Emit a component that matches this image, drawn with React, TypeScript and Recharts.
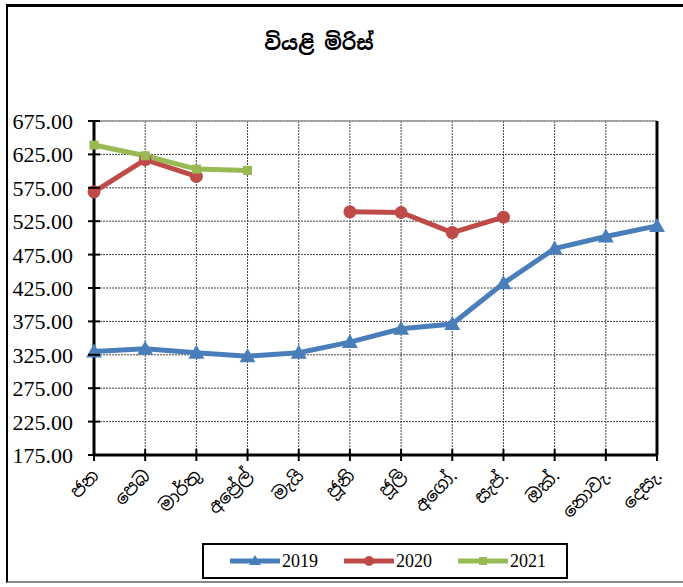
import React from "react";
import {
  LineChart,
  Line,
  XAxis,
  YAxis,
  CartesianGrid,
  ReferenceLine,
} from "recharts";

const months = [
  "ජන",
  "පෙබ",
  "මාර්තු",
  "අප්‍රේල්",
  "මැයි",
  "ජූනි",
  "ජූලි",
  "අගෝ.",
  "සැප්.",
  "ඔක්.",
  "නොවැ.",
  "දෙසැ.",
];

const y2019 = [330, 334, 328, 323, 328, 344, 364, 371, 432, 484, 502, 518];
const y2020 = [569, 617, 592, null, null, 539, 538, 508, 531, null, null, null];
const y2021 = [639, 623, 603, 601, null, null, null, null, null, null, null, null];

const yTicks = [175, 225, 275, 325, 375, 425, 475, 525, 575, 625, 675];

const COLORS = {
  y2019: "#4a7ebb",
  y2020: "#be4b48",
  y2021: "#98b954",
};

const data = months.map((m, i) => ({
  month: m,
  y2019: y2019[i],
  y2020: y2020[i],
  y2021: y2021[i],
}));

const SINHALA = "'Noto Sans Sinhala', 'Noto Serif Sinhala', 'Iskoola Pota', sans-serif";
const SERIF = "'Liberation Serif', 'Times New Roman', serif";

const Triangle = ({ cx, cy, fill }: any) => {
  if (cx == null || cy == null) return null;
  const s = 8;
  return (
    <polygon
      points={`${cx},${cy - s} ${cx + s},${cy + s * 0.75} ${cx - s},${cy + s * 0.75}`}
      fill={fill}
    />
  );
};

const Circle = ({ cx, cy, fill }: any) => {
  if (cx == null || cy == null) return null;
  return <circle cx={cx} cy={cy} r={6.5} fill={fill} />;
};

const Square = ({ cx, cy, fill }: any) => {
  if (cx == null || cy == null) return null;
  return <rect x={cx - 4.5} y={cy - 4.5} width={9} height={9} fill={fill} />;
};

const YTick = ({ x, y, payload }: any) => (
  <g>
    <line x1={x - 6} x2={x + 6} y1={y} y2={y} stroke="#000" strokeWidth={2} />
    <text
      x={x - 21}
      y={y}
      dy="0.36em"
      textAnchor="end"
      fontFamily={SERIF}
      fontSize={22}
      fill="#000"
    >
      {payload.value.toFixed(2)}
    </text>
  </g>
);

const XTick = ({ x, y, payload }: any) => (
  <g>
    <line x1={x} x2={x} y1={y - 6} y2={y + 6} stroke="#000" strokeWidth={2} />
    <text
      x={x + 6}
      y={y + 22}
      textAnchor="end"
      fontFamily={SINHALA}
      fontSize={18}
      fill="#000"
      transform={`rotate(-45 ${x + 6} ${y + 22})`}
    >
      {payload.value}
    </text>
  </g>
);

const legendItems = [
  { label: "2019", color: COLORS.y2019, marker: "tri" },
  { label: "2020", color: COLORS.y2020, marker: "circle" },
  { label: "2021", color: COLORS.y2021, marker: "square" },
];

function LegendBox() {
  return (
    <div
      style={{
        position: "absolute",
        left: 202,
        top: 543,
        width: 366,
        height: 36,
        border: "2px solid #000",
        boxSizing: "border-box",
        display: "flex",
        alignItems: "center",
        paddingLeft: 26,
        fontFamily: SERIF,
        fontSize: 18,
        color: "#000",
      }}
    >
      {legendItems.map((it) => (
        <div key={it.label} style={{ display: "flex", alignItems: "center", marginRight: 26 }}>
          <svg width={50} height={14}>
            <line x1={1} x2={49} y1={7} y2={7} stroke={it.color} strokeWidth={5} strokeLinecap="round" />
            {it.marker === "tri" && <polygon points="25,1 31,11 19,11" fill={it.color} />}
            {it.marker === "circle" && <circle cx={25} cy={7} r={5} fill={it.color} />}
            {it.marker === "square" && <rect x={21} y={3} width={8} height={8} fill={it.color} />}
          </svg>
          <span style={{ marginLeft: 2 }}>{it.label}</span>
        </div>
      ))}
    </div>
  );
}

export default function App() {
  return (
    <div
      style={{
        position: "absolute",
        left: 0,
        top: 0,
        width: 683,
        height: 587,
        background: "#fff",
        overflow: "hidden",
      }}
    >
      <div
        style={{
          position: "absolute",
          left: 6,
          top: 4,
          width: 700,
          height: 579,
          borderLeft: "2px solid #000",
          borderTop: "3px solid #000",
          borderBottom: "2px solid #888",
          boxSizing: "border-box",
        }}
      />
      <div
        style={{
          position: "absolute",
          left: 219,
          top: 30,
          width: 200,
          textAlign: "center",
          fontFamily: SINHALA,
          fontWeight: "bold",
          fontSize: 20,
          color: "#000",
        }}
      >
        වියළි මිරිස්
      </div>
      <div style={{ position: "absolute", left: 0, top: 0 }}>
        <LineChart
          width={683}
          height={587}
          data={data}
          margin={{ top: 121, right: 26, bottom: 52, left: 0 }}
        >
          <CartesianGrid stroke="#444" strokeDasharray="2 1" strokeWidth={1} />
          <ReferenceLine y={675} stroke="#999" strokeWidth={1.5} />
          <ReferenceLine x="දෙසැ." stroke="#000" strokeWidth={3} />
          <XAxis
            dataKey="month"
            interval={0}
            axisLine={{ stroke: "#000", strokeWidth: 3 }}
            tickLine={false}
            tickSize={0}
            tickMargin={0}
            height={80}
            tick={<XTick />}
          />
          <YAxis
            domain={[175, 675]}
            ticks={yTicks}
            width={94}
            axisLine={{ stroke: "#000", strokeWidth: 3 }}
            tickLine={false}
            tickSize={0}
            tickMargin={0}
            tick={<YTick />}
          />
          <Line
            dataKey="y2019"
            name="2019"
            stroke={COLORS.y2019}
            strokeWidth={5}
            dot={<Triangle fill={COLORS.y2019} />}
            isAnimationActive={false}
          />
          <Line
            dataKey="y2020"
            name="2020"
            stroke={COLORS.y2020}
            strokeWidth={5}
            dot={<Circle fill={COLORS.y2020} />}
            connectNulls={false}
            isAnimationActive={false}
          />
          <Line
            dataKey="y2021"
            name="2021"
            stroke={COLORS.y2021}
            strokeWidth={5}
            dot={<Square fill={COLORS.y2021} />}
            connectNulls={false}
            isAnimationActive={false}
          />
        </LineChart>
      </div>
      <LegendBox />
    </div>
  );
}
